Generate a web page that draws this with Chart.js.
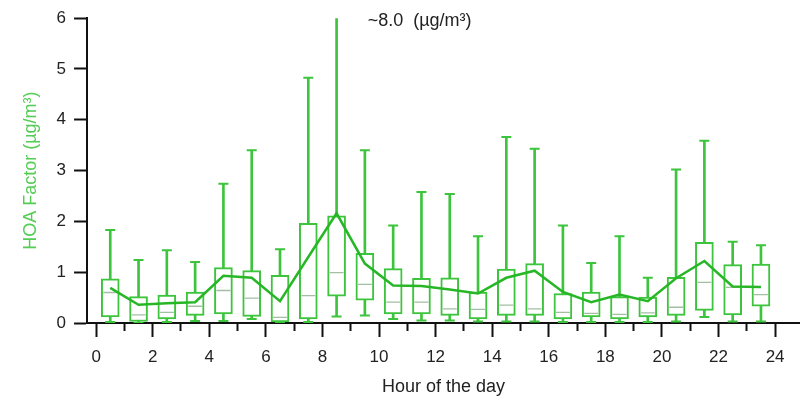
<!DOCTYPE html>
<html>
<head>
<meta charset="utf-8">
<script src="https://cdn.jsdelivr.net/npm/chart.js@4.4.0/dist/chart.umd.min.js"></script>
<style>
  html, body { margin: 0; padding: 0; background: #ffffff; }
  #wrap { width: 800px; height: 400px; }
</style>
</head>
<body>
<div id="wrap"><canvas id="c" width="800" height="400"></canvas></div>
<script>
// Hour of the day (box centres)
const hours = [0.5, 1.5, 2.5, 3.5, 4.5, 5.5, 6.5, 7.5, 8.5, 9.5, 10.5, 11.5,
               12.5, 13.5, 14.5, 15.5, 16.5, 17.5, 18.5, 19.5, 20.5, 21.5, 22.5, 23.5];
// HOA factor statistics (µg/m3)
const whiskerHigh = [1.83, 1.24, 1.43, 1.20, 2.74, 3.40, 1.45, 4.83, 8.00, 3.40, 1.92, 2.58,
                     2.54, 1.71, 3.66, 3.43, 1.92, 1.18, 1.71, 0.89, 3.02, 3.59, 1.60, 1.53];
const q3 = [0.87, 0.52, 0.55, 0.61, 1.09, 1.03, 0.94, 1.96, 2.11, 1.37, 1.07, 0.88,
            0.89, 0.61, 1.06, 1.17, 0.58, 0.61, 0.52, 0.51, 0.90, 1.59, 1.15, 1.16];
const median = [0.60, 0.16, 0.21, 0.33, 0.64, 0.49, 0.11, 0.54, 0.99, 0.76, 0.41, 0.41,
                0.28, 0.27, 0.35, 0.28, 0.21, 0.19, 0.17, 0.20, 0.31, 0.80, 0.70, 0.56];
const q1 = [0.12, 0.03, 0.08, 0.15, 0.18, 0.13, 0.02, 0.08, 0.53, 0.45, 0.18, 0.18,
            0.15, 0.08, 0.15, 0.15, 0.08, 0.12, 0.08, 0.12, 0.15, 0.25, 0.16, 0.33];
const whiskerLow = [0.02, 0.00, 0.02, 0.04, 0.04, 0.08, 0.00, 0.02, 0.13, 0.15, 0.08, 0.05,
                    0.05, 0.03, 0.03, 0.03, 0.02, 0.02, 0.02, 0.02, 0.03, 0.12, 0.03, 0.03];
const mean = [0.69, 0.36, 0.39, 0.41, 0.93, 0.89, 0.43, 1.30, 2.16, 1.17, 0.74, 0.73,
              0.66, 0.58, 0.89, 1.03, 0.61, 0.41, 0.56, 0.43, 0.88, 1.22, 0.72, 0.71];
// Axis tick labels
const xTickLabels = ['0', '2', '4', '6', '8', '10', '12', '14', '16', '18', '20', '22', '24'];
const yTickLabels = ['0', '1', '2', '3', '4', '5', '6'];
const annotationText = '~8.0  (\u00b5g/m\u00b3)';

const GREEN = '#3cc43c';
const LINE_GREEN = '#26b626';
const MEDIAN = '#a3bfa3';
const FONT = "'Liberation Sans', Arial, sans-serif";

const annotationPlugin = {
  id: 'annot',
  afterDraw(chart) {
    const ctx = chart.ctx;
    const xs = chart.scales.x, ys = chart.scales.y;
    ctx.save();
    ctx.font = '18px ' + FONT;
    ctx.fillStyle = '#222';
    ctx.textBaseline = 'middle';
    ctx.textAlign = 'left';
    ctx.fillText(annotationText, xs.getPixelForValue(9.6), ys.getPixelForValue(5.94));
    ctx.restore();
  }
};

new Chart(document.getElementById('c'), {
  type: 'bar',
  data: {
    datasets: [
      {
        type: 'line', label: 'mean', order: 0,
        data: hours.map((h, i) => ({ x: h, y: mean[i] })),
        borderColor: LINE_GREEN, borderWidth: 2.5, pointRadius: 0, tension: 0, fill: false
      },
      {
        type: 'scatter', label: 'median', order: 1,
        data: hours.map((h, i) => ({ x: h, y: median[i] })),
        pointStyle: 'line', pointRadius: 7, borderColor: MEDIAN, borderWidth: 1.3,
        backgroundColor: MEDIAN
      },
      {
        type: 'bar', label: 'box', order: 2, grouped: false,
        data: hours.map((h, i) => ({ x: h, y: [q1[i], q3[i]] })),
        backgroundColor: '#ffffff', borderColor: GREEN, borderWidth: 2,
        borderSkipped: false, barThickness: 18
      },
      {
        type: 'scatter', label: 'caps', order: 3,
        data: hours.map((h, i) => ({ x: h, y: whiskerHigh[i] }))
              .concat(hours.map((h, i) => ({ x: h, y: whiskerLow[i] }))),
        pointStyle: 'line', pointRadius: 5, borderColor: GREEN, borderWidth: 2,
        backgroundColor: GREEN
      },
      {
        type: 'bar', label: 'whisker', order: 4, grouped: false,
        data: hours.map((h, i) => ({ x: h, y: [whiskerLow[i], whiskerHigh[i]] })),
        backgroundColor: GREEN, borderWidth: 0, barThickness: 2
      }
    ]
  },
  options: {
    responsive: false,
    animation: false,
    events: [],
    layout: { autoPadding: false, padding: { left: 18, top: 14, right: 0, bottom: 4 } },
    plugins: { legend: { display: false }, tooltip: { enabled: false } },
    scales: {
      x: {
        type: 'linear', min: -0.32, max: 24.88, offset: false,
        afterFit: (s) => { s.paddingRight = 0; },
        border: { color: '#111', width: 2 },
        grid: {
          offset: false, drawOnChartArea: false, drawTicks: true, tickLength: 14,
          tickColor: '#111', tickWidth: 2,
          tickBorderDash: (c) => (c.tick && Math.round(c.tick.value) % 2 !== 0) ? [7, 30] : []
        },
        ticks: {
          stepSize: 1, includeBounds: false, autoSkip: false, maxRotation: 0,
          padding: 12, color: '#222', font: { family: FONT, size: 17, lineHeight: 1.0 },
          callback: (v) => {
            const idx = xTickLabels.indexOf(String(Math.round(v)));
            return (Math.abs(v - Math.round(v)) < 1e-6 && idx >= 0) ? xTickLabels[idx] : '';
          }
        },
        title: {
          display: true, text: 'Hour of the day', color: '#222',
          font: { family: FONT, size: 18, lineHeight: 1.0 }, padding: { top: 0, bottom: 0 }
        }
      },
      y: {
        min: 0, max: 6,
        border: { color: '#111', width: 2 },
        grid: { drawOnChartArea: false, drawTicks: true, tickLength: 13, tickColor: '#111', tickWidth: 2 },
        ticks: {
          stepSize: 1, includeBounds: false, padding: 8, color: '#222',
          font: { family: FONT, size: 17 },
          callback: (v) => yTickLabels[Math.round(v)] ?? ''
        },
        title: {
          display: true, text: 'HOA Factor (\u00b5g/m\u00b3)', color: '#55cc55',
          font: { family: FONT, size: 18 }, padding: { top: 2, bottom: 7 }
        }
      }
    }
  },
  plugins: [annotationPlugin]
});
</script>
</body>
</html>
